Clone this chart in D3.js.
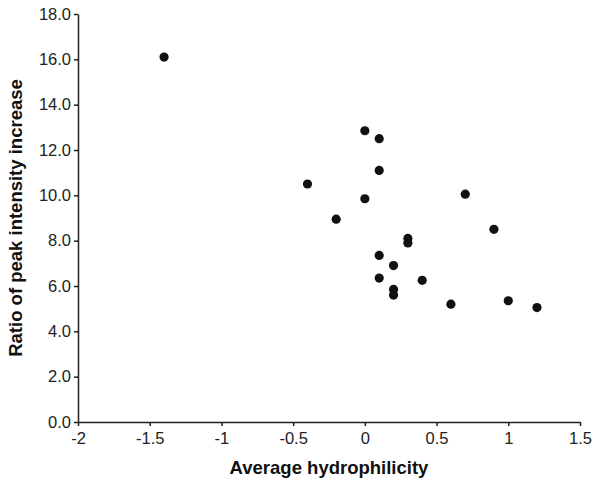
<!DOCTYPE html>
<meta charset="utf-8">
<title>Hydrophilicity scatter</title>
<style>
body {
  margin: 0px;
  background: #fff;
}
svg {
  font-family: "Liberation Sans", Arial, sans-serif;
}
.axis path, .axis line {
  stroke: #222;
  stroke-width: 1.5px;
}
.axis text {
  font-size: 16.5px;
  fill: #222;
}
.title {
  font-size: 18.5px;
  font-weight: bold;
  fill: #111;
}
</style>
<script src="https://d3js.org/d3.v7.min.js"></script>
<body>
<script>
// values
var hydrophilicity = [-1.4, 0.0, 0.1, 0.1, -0.4, 0.0, -0.2, 0.3, 0.3, 0.1,
                      0.2, 0.1, 0.4, 0.2, 0.2, 0.7, 0.9, 0.6, 1.0, 1.2];
var ratio = [16.1, 12.85, 12.5, 11.1, 10.5, 9.85, 8.95, 8.1, 7.9, 7.35,
             6.9, 6.35, 6.25, 5.85, 5.6, 10.05, 8.5, 5.2, 5.35, 5.05];
var xTicks = [-2, -1.5, -1, -0.5, 0, 0.5, 1, 1.5];
var yTicks = [0, 2, 4, 6, 8, 10, 12, 14, 16, 18];

var width = 600, height = 482;
var margin = {top: 14, right: 20, bottom: 60, left: 78};

var svg = d3.select("body").append("svg")
    .attr("width", width)
    .attr("height", height);

var x = d3.scaleLinear()
    .domain([-2, 1.5])
    .range([margin.left, width - margin.right]);
var y = d3.scaleLinear()
    .domain([0, 18])
    .range([height - margin.bottom, margin.top]);

svg.append("g")
    .attr("class", "axis")
    .attr("transform", "translate(0," + y(0) + ")")
    .call(d3.axisBottom(x).tickValues(xTicks).tickSize(4).tickSizeOuter(0)
      .tickFormat(function(d) { return String(d); }))
    .selectAll("text").attr("y", 7).attr("dy", "0.9em");

svg.append("g")
    .attr("class", "axis")
    .attr("transform", "translate(" + x(-2) + ",0)")
    .call(d3.axisLeft(y).tickValues(yTicks).tickSize(4).tickSizeOuter(0)
      .tickFormat(d3.format(".1f")))
    .selectAll("text").attr("x", -7);

svg.selectAll("circle.pt")
    .data(d3.range(ratio.length))
  .enter().append("circle")
    .attr("class", "pt")
    .attr("cx", function(i) { return x(hydrophilicity[i]); })
    .attr("cy", function(i) { return y(ratio[i]); })
    .attr("r", 4.6)
    .attr("fill", "#111");

svg.append("text")
    .attr("class", "title")
    .attr("x", (x(-2) + x(1.5)) / 2)
    .attr("y", 474)
    .style("text-anchor", "middle")
    .text("Average hydrophilicity");

svg.append("text")
    .attr("class", "title")
    .attr("transform", "translate(22," + (y(0) + y(18)) / 2 + ") rotate(-90)")
    .style("text-anchor", "middle")
    .text("Ratio of peak intensity increase");
</script>
